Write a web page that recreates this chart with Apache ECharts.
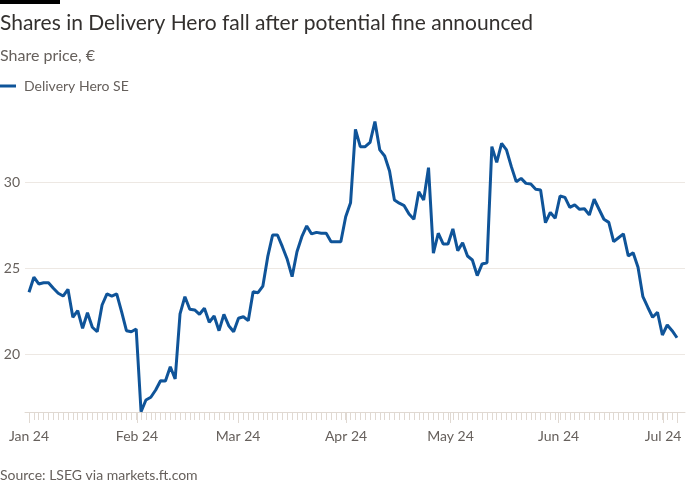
<!DOCTYPE html>
<html><head><meta charset="utf-8">
<script src="https://cdn.jsdelivr.net/npm/echarts@6/dist/echarts.min.js"></script>
<style>html,body{margin:0;padding:0;background:#fff}#c{width:700px;height:500px}</style>
</head><body><div id="c"></div>
<script>
const FONT = 'Lato';
const titleText = 'Shares in Delivery Hero fall after potential fine announced';
const subtitleText = 'Share price, €';
const sourceText = 'Source: LSEG via markets.ft.com';
const seriesName = 'Delivery Hero SE';

// trading dates (evenly spaced along the line) and closing share prices (€)
const dates = [
  '2024-01-02','2024-01-03','2024-01-04','2024-01-05','2024-01-08','2024-01-09','2024-01-10','2024-01-11','2024-01-12','2024-01-15',
  '2024-01-16','2024-01-17','2024-01-18','2024-01-19','2024-01-22','2024-01-23','2024-01-24','2024-01-25','2024-01-26','2024-01-29',
  '2024-01-30','2024-01-31',
  '2024-02-01','2024-02-02','2024-02-05','2024-02-06','2024-02-07','2024-02-08','2024-02-09','2024-02-12','2024-02-13','2024-02-14',
  '2024-02-15','2024-02-16','2024-02-19','2024-02-20','2024-02-21','2024-02-22','2024-02-23','2024-02-26','2024-02-27','2024-02-28','2024-02-29',
  '2024-03-01','2024-03-04','2024-03-05','2024-03-06','2024-03-07','2024-03-08','2024-03-11','2024-03-12','2024-03-13','2024-03-14',
  '2024-03-15','2024-03-18','2024-03-19','2024-03-20','2024-03-21','2024-03-22','2024-03-25','2024-03-26','2024-03-27','2024-03-28','2024-03-29',
  '2024-04-01','2024-04-02','2024-04-03','2024-04-04','2024-04-05','2024-04-08','2024-04-09','2024-04-10','2024-04-11','2024-04-12',
  '2024-04-15','2024-04-16','2024-04-17','2024-04-18','2024-04-19','2024-04-22','2024-04-23','2024-04-24','2024-04-25','2024-04-26',
  '2024-04-29','2024-04-30',
  '2024-05-01','2024-05-02','2024-05-03','2024-05-06','2024-05-07','2024-05-08','2024-05-09','2024-05-10','2024-05-13','2024-05-14',
  '2024-05-15','2024-05-16','2024-05-17','2024-05-20','2024-05-21','2024-05-22','2024-05-23','2024-05-24','2024-05-27','2024-05-28',
  '2024-05-29','2024-05-30','2024-05-31',
  '2024-06-03','2024-06-04','2024-06-05','2024-06-06','2024-06-07','2024-06-10','2024-06-11','2024-06-12','2024-06-13','2024-06-14',
  '2024-06-17','2024-06-18','2024-06-19','2024-06-20','2024-06-21','2024-06-24','2024-06-25','2024-06-26','2024-06-27','2024-06-28',
  '2024-07-01','2024-07-02','2024-07-03','2024-07-04','2024-07-05'
];
const prices = [
  23.61,24.48,24.09,24.16,24.16,23.84,23.55,23.39,23.78,22.16,
  22.54,21.52,22.42,21.58,21.32,22.87,23.51,23.39,23.51,22.48,
  21.38,21.32,
  21.48,16.68,17.36,17.52,17.94,18.48,18.46,19.29,18.58,22.35,
  23.35,22.62,22.58,22.33,22.68,21.87,22.23,21.38,22.33,21.67,21.32,
  22.10,22.19,21.96,23.64,23.58,23.97,25.67,26.93,26.93,26.25,
  25.52,24.51,25.96,26.83,27.45,26.99,27.08,27.03,27.03,26.54,26.54,
  26.54,27.99,28.80,33.05,32.05,32.05,32.30,33.50,31.86,31.51,
  30.64,28.96,28.77,28.63,28.14,27.84,29.44,28.96,30.83,25.87,
  27.03,26.41,
  26.41,27.28,26.02,26.48,25.71,25.48,24.57,25.25,25.32,32.05,
  31.14,32.24,31.86,30.89,30.02,30.21,29.92,29.88,29.58,29.54,
  27.64,28.24,27.90,
  29.19,29.11,28.53,28.67,28.42,28.45,28.09,29.00,28.42,27.84,
  27.66,26.54,26.77,26.99,25.71,25.90,25.06,23.35,22.74,22.16,
  22.45,21.13,21.71,21.38,20.97
];

// axis ticks
const monthTicks = ['2024-01-01','2024-02-01','2024-03-01','2024-04-01','2024-05-01','2024-06-01','2024-07-01'];
const monthLabels = ['Jan 24','Feb 24','Mar 24','Apr 24','May 24','Jun 24','Jul 24'];
const yTickValues = [20, 25, 30];
const calStart = '2024-01-01';
const calEnd = '2024-07-05';

const BLUE = '#0f5499';
const GREY = '#66605c';
const GRID_C = '#ede8e3';
const TICK_C = '#e0d9d2';

const DAY = 86400000;
const t0 = Date.parse(calStart + 'T00:00:00Z');
const dayOf = s => (Date.parse(s + 'T00:00:00Z') - t0) / DAY;
const monthDays = monthTicks.map(dayOf);
const dayCount = dayOf(calEnd);

const gridTop = 95.75, gridH = 345, axisOffset = -28.75;

const chart = echarts.init(document.getElementById('c'), null, {renderer: 'canvas'});
chart.setOption({
  animation: false,
  backgroundColor: '#fff',
  textStyle: {fontFamily: FONT},
  graphic: [
    {type: 'rect', shape: {x: 0, y: 0, width: 60, height: 4}, style: {fill: '#000'}},
    {type: 'text', x: 0, y: 23, style: {text: titleText, font: '21px ' + FONT, fill: '#33302e', verticalAlign: 'middle', textVerticalAlign: 'middle'}},
    {type: 'text', x: 0, y: 56, style: {text: subtitleText, font: '16px ' + FONT, fill: GREY, verticalAlign: 'middle', textVerticalAlign: 'middle'}},
    {type: 'text', x: 0, y: 475, style: {text: sourceText, font: '14px ' + FONT, fill: GREY, verticalAlign: 'middle', textVerticalAlign: 'middle'}}
  ],
  legend: {
    left: 0, top: 79, padding: 0, icon: 'rect', itemWidth: 16, itemHeight: 3,
    textStyle: {color: GREY, fontSize: 14, fontFamily: FONT, padding: [0, 0, 0, 3]},
    data: [seriesName]
  },
  grid: [
    {left: 29, width: 648, top: gridTop, height: gridH},
    {left: 25, width: 660, top: gridTop, height: gridH},
    {left: 29, width: 648, top: gridTop, height: gridH}
  ],
  xAxis: [
    {
      type: 'category', gridIndex: 0, data: dates, boundaryGap: false, offset: axisOffset,
      axisLine: {show: false},
      axisTick: {show: true, interval: 0, length: 8, lineStyle: {color: TICK_C}},
      axisLabel: {show: false}, splitLine: {show: false}
    },
    {
      type: 'value', gridIndex: 1, min: 0, max: 1, offset: axisOffset,
      axisLine: {show: true, lineStyle: {color: TICK_C, width: 1}},
      axisTick: {show: false}, axisLabel: {show: false}, splitLine: {show: false}
    },
    {
      type: 'value', gridIndex: 2, min: 0, max: dayCount, offset: axisOffset,
      axisLine: {show: false},
      axisTick: {show: true, length: 11, lineStyle: {color: TICK_C}, customValues: monthDays.concat([dayCount])},
      axisLabel: {color: GREY, fontSize: 14, fontFamily: FONT, margin: 17, customValues: monthDays,
        formatter: v => monthLabels[monthDays.indexOf(v)] || ''},
      splitLine: {show: false}
    }
  ],
  yAxis: [
    {type: 'value', gridIndex: 0, min: 15, max: 35, interval: 5, show: false},
    {
      type: 'value', gridIndex: 1, min: 15, max: 35, interval: 5,
      axisLine: {show: false}, axisTick: {show: false},
      axisLabel: {color: GREY, fontSize: 14, fontFamily: FONT, margin: 5, showMinLabel: false, showMaxLabel: false,
        formatter: v => yTickValues.includes(v) ? String(v) : ''},
      splitLine: {show: true, showMinLine: false, showMaxLine: false, lineStyle: {color: GRID_C, width: 1}}
    },
    {type: 'value', gridIndex: 2, min: 15, max: 35, show: false}
  ],
  series: [{
    name: seriesName, type: 'line', xAxisIndex: 0, yAxisIndex: 0,
    data: prices,
    showSymbol: false, symbol: 'none',
    lineStyle: {color: BLUE, width: 3},
    itemStyle: {color: BLUE},
    emphasis: {disabled: true}, z: 5
  }]
});
</script></body></html>
